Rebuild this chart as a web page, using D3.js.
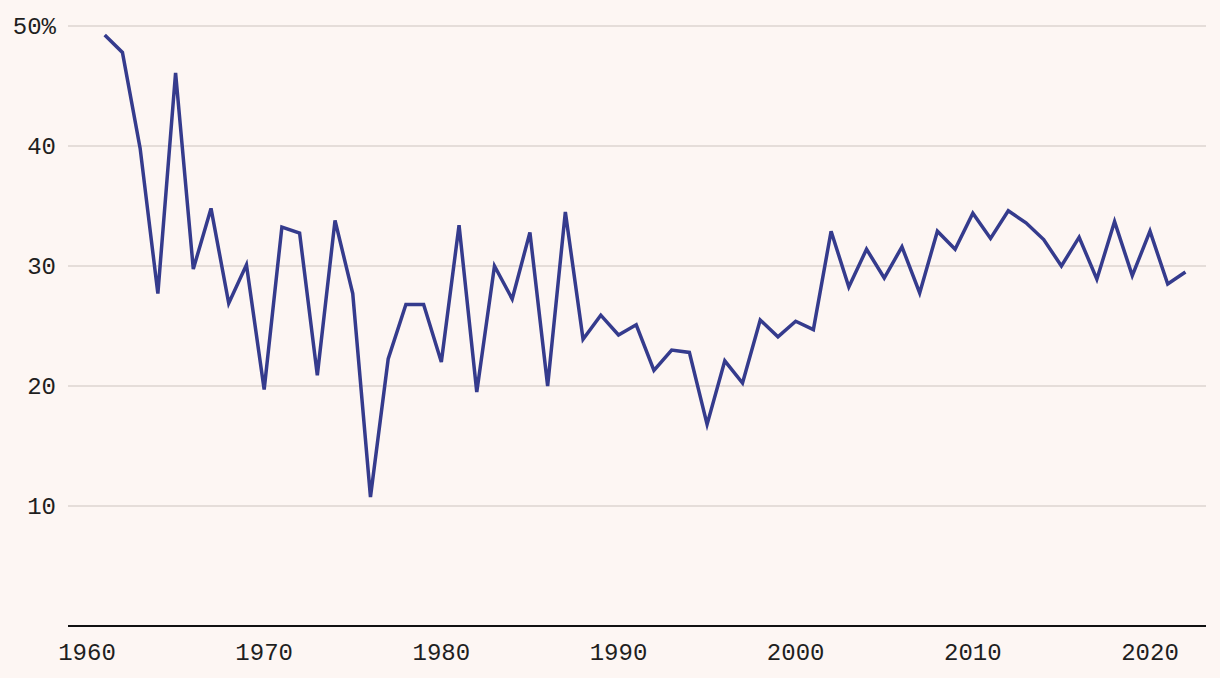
<!DOCTYPE html>
<html>
<head>
<meta charset="utf-8">
<script src="https://cdn.jsdelivr.net/npm/d3@7"></script>
<style>
  html, body { margin: 0; padding: 0; background: #fdf6f3; }
  svg { display: block; }
  text { font-family: "Liberation Mono", "DejaVu Sans Mono", monospace; }
</style>
</head>
<body>
<svg id="chart" width="1220" height="678"></svg>
<script>
const years = d3.range(1961, 2023);
const values = [
  49.25, 47.8, 39.8, 27.7, 46.1, 29.75, 34.8, 26.9, 30.1, 19.7,
  33.25, 32.75, 20.9, 33.8, 27.7, 10.75, 22.25, 26.8, 26.8, 22.0,
  33.4, 19.5, 30.0, 27.25, 32.8, 20.0, 34.5, 23.9, 25.9, 24.25,
  25.1, 21.3, 23.0, 22.8, 16.8, 22.1, 20.25, 25.5, 24.1, 25.4,
  24.7, 32.9, 28.25, 31.4, 29.0, 31.6, 27.75, 32.9, 31.4, 34.4,
  32.3, 34.6, 33.6, 32.2, 30.0, 32.4, 28.9, 33.7, 29.2, 32.9,
  28.5, 29.5
];
const xTicks = [1960, 1970, 1980, 1990, 2000, 2010, 2020];
const yTicks = [10, 20, 30, 40, 50];

const svg = d3.select("#chart");
const m = { left: 68, right: 1206, top: 26, bottom: 626 };

const x = d3.scaleLinear()
  .domain([1960, 2020])
  .range([87, 1150]);
const y = d3.scaleLinear()
  .domain([0, 50])
  .range([m.bottom, m.top]);

// gridlines
svg.append("g")
  .selectAll("line")
  .data(yTicks)
  .join("line")
  .attr("x1", m.left).attr("x2", m.right)
  .attr("y1", d => y(d)).attr("y2", d => y(d))
  .attr("stroke", "#ddd4d1")
  .attr("stroke-width", 1.5);

// y labels
svg.append("g")
  .selectAll("text")
  .data(yTicks)
  .join("text")
  .attr("x", 56)
  .attr("y", d => y(d))
  .attr("dy", "0.35em")
  .attr("text-anchor", "end")
  .attr("font-size", 24)
  .attr("fill", "#1f1f1f")
  .text(d => d === 50 ? d + "%" : d);

// x axis line
svg.append("line")
  .attr("x1", m.left).attr("x2", m.right)
  .attr("y1", m.bottom).attr("y2", m.bottom)
  .attr("stroke", "#111")
  .attr("stroke-width", 2);

// x labels
svg.append("g")
  .selectAll("text")
  .data(xTicks)
  .join("text")
  .attr("x", d => x(d))
  .attr("y", 660)
  .attr("text-anchor", "middle")
  .attr("font-size", 24)
  .attr("fill", "#1f1f1f")
  .text(d => d);

// line
const line = d3.line()
  .x((d, i) => x(years[i]))
  .y(d => y(d));

svg.append("path")
  .datum(values)
  .attr("d", line)
  .attr("fill", "none")
  .attr("stroke", "#353b8d")
  .attr("stroke-width", 3.5)
  .attr("stroke-linejoin", "miter");
</script>
</body>
</html>
